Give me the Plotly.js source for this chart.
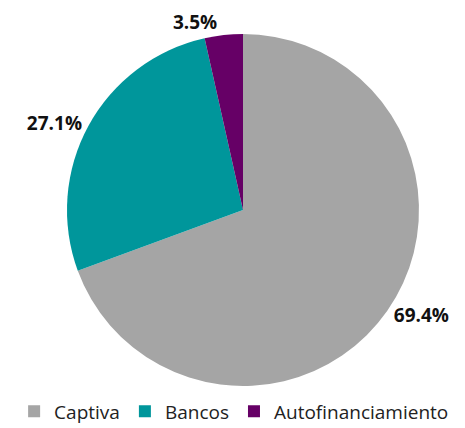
<!DOCTYPE html>
<html>
<head>
<meta charset="utf-8">
<script src="https://cdn.plot.ly/plotly-3.0.1.min.js"></script>
<style>
  html, body { margin: 0; padding: 0; background: #fff; }
  #chart { width: 465px; height: 428px; }
</style>
</head>
<body>
<div id="chart"></div>
<script>
var labels = ["Captiva", "Bancos", "Autofinanciamiento"];
var shares = [69.4, 27.1, 3.5];
var colors = ["#A5A5A5", "#00969B", "#660066"];

var trace = {
  type: "pie",
  labels: labels,
  values: shares,
  sort: false,
  direction: "clockwise",
  rotation: 0,
  marker: { colors: colors, line: { color: "#ffffff", width: 0 } },
  texttemplate: "%{value:.1f}%",
  textposition: "outside",
  outsidetextfont: { family: "Open Sans, sans-serif", size: 19, color: "#111111", weight: "bold" },
  hoverinfo: "label+percent"
};

var layout = {
  width: 465,
  height: 428,
  margin: { l: 21, r: 0, t: 34, b: 42, autoexpand: false },
  paper_bgcolor: "#ffffff",
  showlegend: true,
  legend: {
    orientation: "h",
    x: 0.48,
    xanchor: "center",
    y: -0.072,
    yanchor: "middle",
    font: { family: "Open Sans, sans-serif", size: 19, color: "#222222" },
    itemwidth: 30,
    tracegroupgap: 0
  }
};

Plotly.newPlot("chart", [trace], layout, { displayModeBar: false });
</script>
</body>
</html>
